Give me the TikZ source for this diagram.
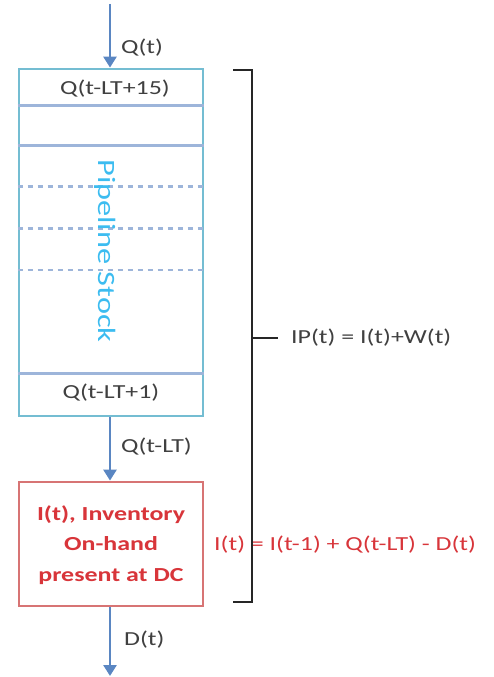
\documentclass[tikz,border=0pt]{standalone}
\usepackage{fontspec}
\setmainfont[FakeStretch=1.3]{Carlito}
\usetikzlibrary{arrows.meta,calc}
\definecolor{pipeborder}{HTML}{74BDD2}
\definecolor{slotline}{HTML}{9DB5DA}
\definecolor{flowblue}{HTML}{5A86C2}
\definecolor{invred}{HTML}{D77474}
\definecolor{invtext}{HTML}{D8353A}
\definecolor{pipetext}{HTML}{3CBCF0}
\definecolor{labelgray}{HTML}{404040}
\tikzset{
  x=1bp, y=-1bp,
  flow/.style={draw=flowblue, line width=2.6bp,
    -{Triangle[width=13bp,length=11bp]}},
  flowlabel/.style={text=labelgray, font=\fontsize{20}{23}\selectfont, anchor=west, inner sep=0pt},
  slot/.style={draw=slotline, line width=2.4bp},
  dotslot/.style={draw=slotline, line width=2.2bp, dash pattern=on 5bp off 5bp},
  bracket/.style={draw=black!85, line width=2.8bp}
}
\begin{document}
\begin{tikzpicture}
\useasboundingbox (0,0) rectangle (494,677);

% pipeline stock column
\node[draw=pipeborder, line width=2.8bp, minimum width=184bp, minimum height=347bp,
      inner sep=0pt] (pipe) at (111,242.5) {};
% slot dividers
\draw[slot] ($(pipe.north west)+(0,38)$) -- ($(pipe.north east)+(0,38)$);
\draw[slot] ($(pipe.north west)+(0,78)$) -- ($(pipe.north east)+(0,78)$);
\draw[dotslot] ($(pipe.north west)+(0,119)$) -- ($(pipe.north east)+(0,119)$);
\draw[dotslot] ($(pipe.north west)+(0,161)$) -- ($(pipe.north east)+(0,161)$);
\draw[dotslot] ($(pipe.north west)+(0,202)$) -- ($(pipe.north east)+(0,202)$);
\draw[slot] ($(pipe.south west)+(0,-44)$) -- ($(pipe.south east)+(0,-44)$);

\node[text=labelgray, font=\fontsize{20}{23}\selectfont] (qtop) at (115,89) {Q(t-LT+15)};
\node[text=labelgray, font=\fontsize{20}{23}\selectfont] (qbot) at (111,393) {Q(t-LT+1)};
\node[text=pipetext, font=\fontsize{25}{28}\selectfont, rotate=-90] (ps) at (105,251) {Pipeline Stock};

% on-hand inventory at the DC
\node[draw=invred, line width=2.8bp, minimum width=184bp, minimum height=124bp,
      inner sep=0pt] (inv) at (111,544) {};
\node[text=invtext, font=\bfseries\fontsize{20}{30.5}\selectfont, align=center] (invtxt) at (111,545)
  {I(t), Inventory\\On-hand\\present at DC};

% flows
\coordinate (src) at (110,4);
\coordinate (sink) at (110,676);
\draw[flow] (src) -- (src |- pipe.north);
\draw[flow] (pipe.south -| src) -- (inv.north -| src);
\draw[flow] (inv.south -| src) -- (sink);
\node[flowlabel] (lq) at (121,48) {Q(t)};
\node[flowlabel] (lqlt) at (121,447) {Q(t-LT)};
\node[flowlabel] (ld) at (124,640) {D(t)};

% inventory balance
\node[text=invtext, font=\fontsize{20}{23}\selectfont, anchor=west, inner sep=0pt] (bal) at (214,545)
  {I(t) = I(t-1) + Q(t-LT) - D(t)};

% inventory position bracket
\coordinate (bt) at (233,70);
\coordinate (bb) at (233,602);
\coordinate (bm) at (252,338);
\coordinate (btip) at (278,338);
\draw[bracket] (bt) -- (bt -| bm) -- (bb -| bm) -- (bb);
\draw[bracket] (bm) -- (btip);
\node[flowlabel] (ip) at (291,338) {IP(t) = I(t)+W(t)};
\end{tikzpicture}
\end{document}
